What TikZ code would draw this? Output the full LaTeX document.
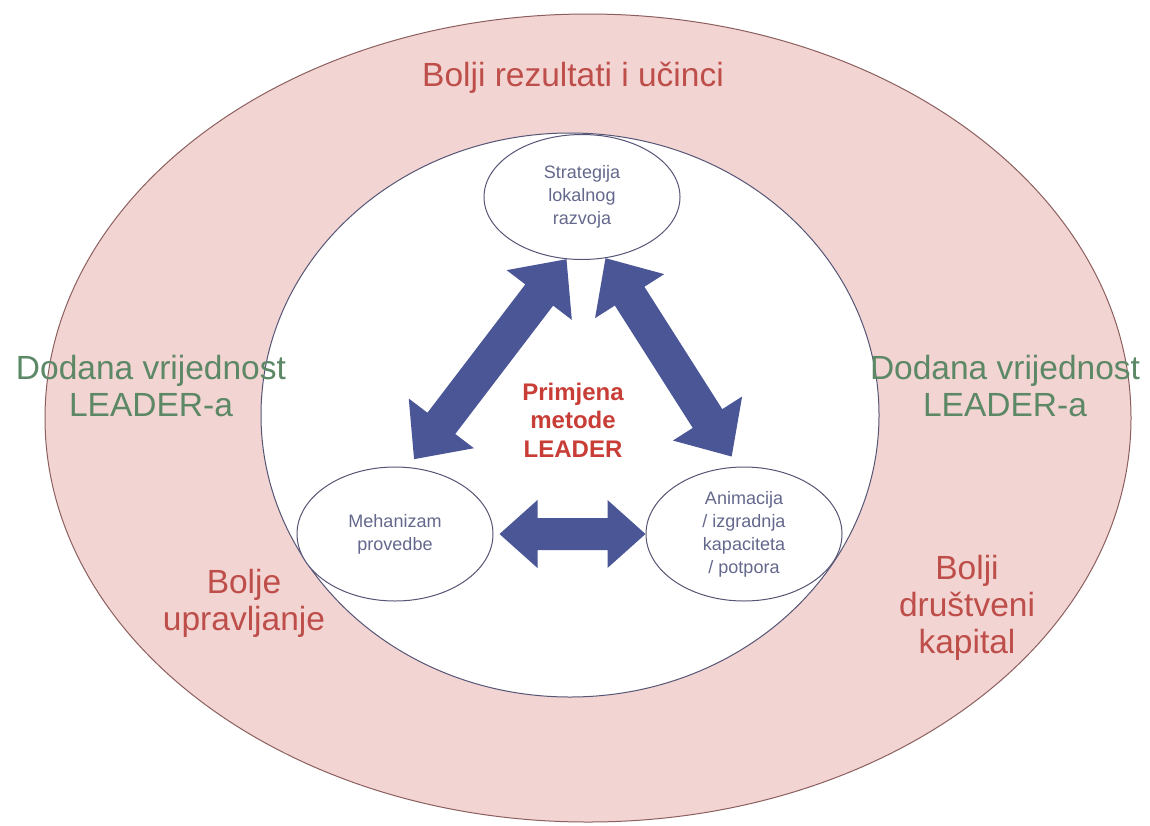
\documentclass[tikz,border=0pt]{standalone}
\usepackage{fontspec}
\setmainfont{Liberation Sans}
\usetikzlibrary{shapes.geometric,calc}
\definecolor{pinkfill}{RGB}{242,212,210}
\definecolor{outerline}{RGB}{140,95,95}
\definecolor{innerline}{RGB}{85,85,118}
\definecolor{arrowblue}{RGB}{74,86,150}
\definecolor{redtext}{RGB}{190,78,74}
\definecolor{boldred}{RGB}{200,62,55}
\definecolor{greentext}{RGB}{92,136,102}
\definecolor{smalltext}{RGB}{100,104,140}
\tikzset{
  bigtext/.style={font=\fontsize{33.5}{37}\selectfont, align=center, inner sep=0pt},
  smallell/.style={draw=innerline, line width=1pt, fill=white, ellipse, inner sep=0pt,
    minimum width=196pt, font=\fontsize{18}{23}\selectfont, text=smalltext, align=center},
  dblfill/.style={fill=arrowblue}
}
% double-headed block arrow between two points: #1,#2 points, #3 head length, #4 half head width, #5 half shaft width
\newcommand{\blockarrow}[5]{%
  \fill[dblfill] (#1)
    -- ($($(#1)!#3!(#2)$)!#4!90:(#2)$)
    -- ($($(#1)!#3!(#2)$)!#5!90:(#2)$)
    -- ($($(#2)!#3!(#1)$)!#5!-90:(#1)$)
    -- ($($(#2)!#3!(#1)$)!#4!-90:(#1)$)
    -- (#2)
    -- ($($(#2)!#3!(#1)$)!#4!90:(#1)$)
    -- ($($(#2)!#3!(#1)$)!#5!90:(#1)$)
    -- ($($(#1)!#3!(#2)$)!#5!-90:(#2)$)
    -- ($($(#1)!#3!(#2)$)!#4!-90:(#2)$)
    -- cycle;}
\begin{document}
\begin{tikzpicture}[x=1pt,y=-1pt]
\useasboundingbox (0,0) rectangle (1150,825);
\fill[white] (0,0) rectangle (1150,825);
% outer and inner ellipses
\node[ellipse, draw=outerline, line width=1pt, fill=pinkfill, minimum width=1086pt, minimum height=808pt, inner sep=0pt] (outer) at (588,418) {};
\node[ellipse, draw=innerline, line width=1pt, fill=white, minimum width=618pt, minimum height=564pt, inner sep=0pt] (inner) at (570,415) {};
% small ellipses
\node[smallell, minimum height=125pt] (strat) at (582,197) {Strategija\\lokalnog\\razvoja};
\node[smallell, minimum height=134pt] (mech) at (395,534) {Mehanizam\\provedbe};
\node[smallell, minimum height=134pt] (anim) at (744,534) {Animacija\\/ izgradnja\\kapaciteta\\/ potpora};
% arrow end points
\coordinate (lt) at (strat.256);
\coordinate (lb) at ($(mech.79)!10pt!(strat.256)$);
\coordinate (rt) at (strat.291);
\coordinate (rb) at ($(anim.95)!12pt!(strat.291)$);
\coordinate (hl) at ($(mech.east)+(6,0)$);
\coordinate (hr) at (hl -| anim.west);
\blockarrow{lt}{lb}{45pt}{41pt}{17.5pt}
\blockarrow{rt}{rb}{45pt}{41pt}{17.5pt}
\blockarrow{hl}{hr}{38pt}{34pt}{16pt}
% centre text
\node[font=\bfseries\fontsize{24}{28.5}\selectfont, text=boldred, align=center, inner sep=0pt] (method) at (573,420) {Primjena\\metode\\LEADER};
% outer texts
\node[bigtext, text=redtext] (results) at (573,78) {Bolji rezultati i učinci};
\node[bigtext, text=greentext] (addl) at (151,386) {Dodana vrijednost\\LEADER-a};
\node[bigtext, text=greentext] (addr) at (1005,386) {Dodana vrijednost\\LEADER-a};
\node[bigtext, text=redtext] (gov) at (244,603) {Bolje\\upravljanje};
\node[bigtext, text=redtext] (social) at (967,608) {Bolji\\društveni\\kapital};
\end{tikzpicture}
\end{document}
